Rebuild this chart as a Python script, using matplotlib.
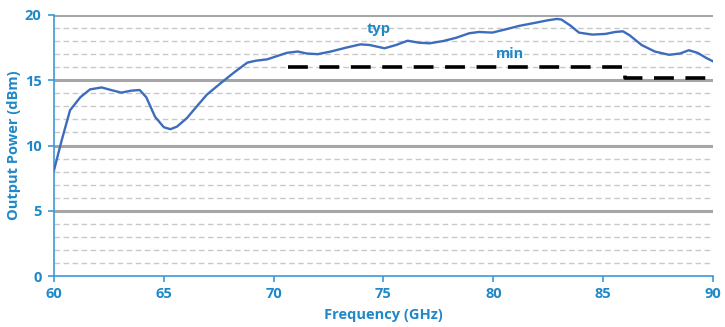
import matplotlib
matplotlib.use("Agg")
import matplotlib.pyplot as plt

freq_typ = [60.0, 60.35, 60.73, 61.2, 61.64, 62.17, 62.6, 63.07, 63.5, 63.9, 64.2, 64.6, 65.0, 65.3,
            65.6, 66.05, 66.5, 66.96, 67.57, 68.2, 68.8, 69.2, 69.7, 70.15, 70.6, 71.1, 71.5, 72.0,
            72.6, 73.3, 73.95, 74.37, 75.05, 75.57, 76.1, 76.6, 77.1, 77.7, 78.3, 78.9, 79.35, 79.95,
            80.56, 81.16, 81.9, 82.5, 82.9, 83.1, 83.5, 83.9, 84.5, 85.1, 85.55, 85.9, 86.2, 86.75,
            87.35, 88.0, 88.5, 88.9, 89.3, 89.7, 90.0]
power_typ = [8.1, 10.4, 12.7, 13.7, 14.3, 14.45, 14.25, 14.05, 14.2, 14.25, 13.7, 12.2, 11.4, 11.25,
             11.45, 12.1, 13.0, 13.9, 14.75, 15.6, 16.35, 16.5, 16.6, 16.85, 17.1, 17.2, 17.05, 17.0,
             17.2, 17.5, 17.75, 17.7, 17.45, 17.7, 18.03, 17.88, 17.83, 18.0, 18.25, 18.6, 18.7, 18.65,
             18.9, 19.16, 19.4, 19.6, 19.7, 19.65, 19.2, 18.65, 18.5, 18.55, 18.7, 18.75, 18.45, 17.7,
             17.2, 16.95, 17.05, 17.3, 17.1, 16.7, 16.45]

freq_min = [70.65, 86.0, 86.0, 89.75]
power_min = [16.05, 16.05, 15.2, 15.2]

x_ticks = [60, 65, 70, 75, 80, 85, 90]
y_ticks = [0, 5, 10, 15, 20]

blue_txt = "#1f88c9"
curve_col = "#3d6cbd"
font = "Open Sans"

fig = plt.figure(figsize=(7.25, 3.27), dpi=100)
ax = fig.add_axes([54/725, 1-276/327, (713-54)/725, (276-15)/327])

# grid
for v in range(1, 20):
    if v % 5 != 0:
        ax.axhline(v, color="#c8c8c8", lw=1.0, ls=(0, (4, 2.5)), zorder=1)
for v in [5, 10, 15, 20]:
    ax.axhline(v, color="#a6a6a6", lw=2.2, zorder=1)

ax.plot(freq_typ, power_typ, color=curve_col, lw=1.7, zorder=3, solid_joinstyle="round")
ax.plot(freq_min, power_min, color="black", lw=2.6, ls=(0, (5.5, 3.2)), zorder=3)

ax.text(74.8, 18.9, "typ", color=blue_txt, fontsize=10.5, fontweight="bold",
        family=font, ha="center", va="center")
ax.text(80.75, 17.0, "min", color=blue_txt, fontsize=10.5, fontweight="bold",
        family=font, ha="center", va="center")

ax.set_xlim(60, 90)
ax.set_ylim(0, 20)
ax.set_xticks(x_ticks)
ax.set_yticks(y_ticks)
ax.set_xticklabels([str(t) for t in x_ticks], color=blue_txt, fontsize=10.5,
                   fontweight="bold", family=font)
ax.set_yticklabels([str(t) for t in y_ticks], color=blue_txt, fontsize=10.5,
                   fontweight="bold", family=font)
ax.tick_params(axis="both", color="#3a9ad9", length=4, width=1.2, direction="out")
ax.tick_params(axis="x", pad=4)
ax.tick_params(axis="y", pad=5)

for s in ["top", "right"]:
    ax.spines[s].set_visible(False)
for s in ["left", "bottom"]:
    ax.spines[s].set_color("#3a9ad9")
    ax.spines[s].set_linewidth(1.2)

ax.set_xlabel("Frequency (GHz)", color=blue_txt, fontsize=10.5, fontweight="bold",
              family=font, labelpad=5)
ax.set_ylabel("Output Power (dBm)", color=blue_txt, fontsize=10.5, fontweight="bold",
              family=font, labelpad=3)

fig.savefig("out.png", dpi=100)
